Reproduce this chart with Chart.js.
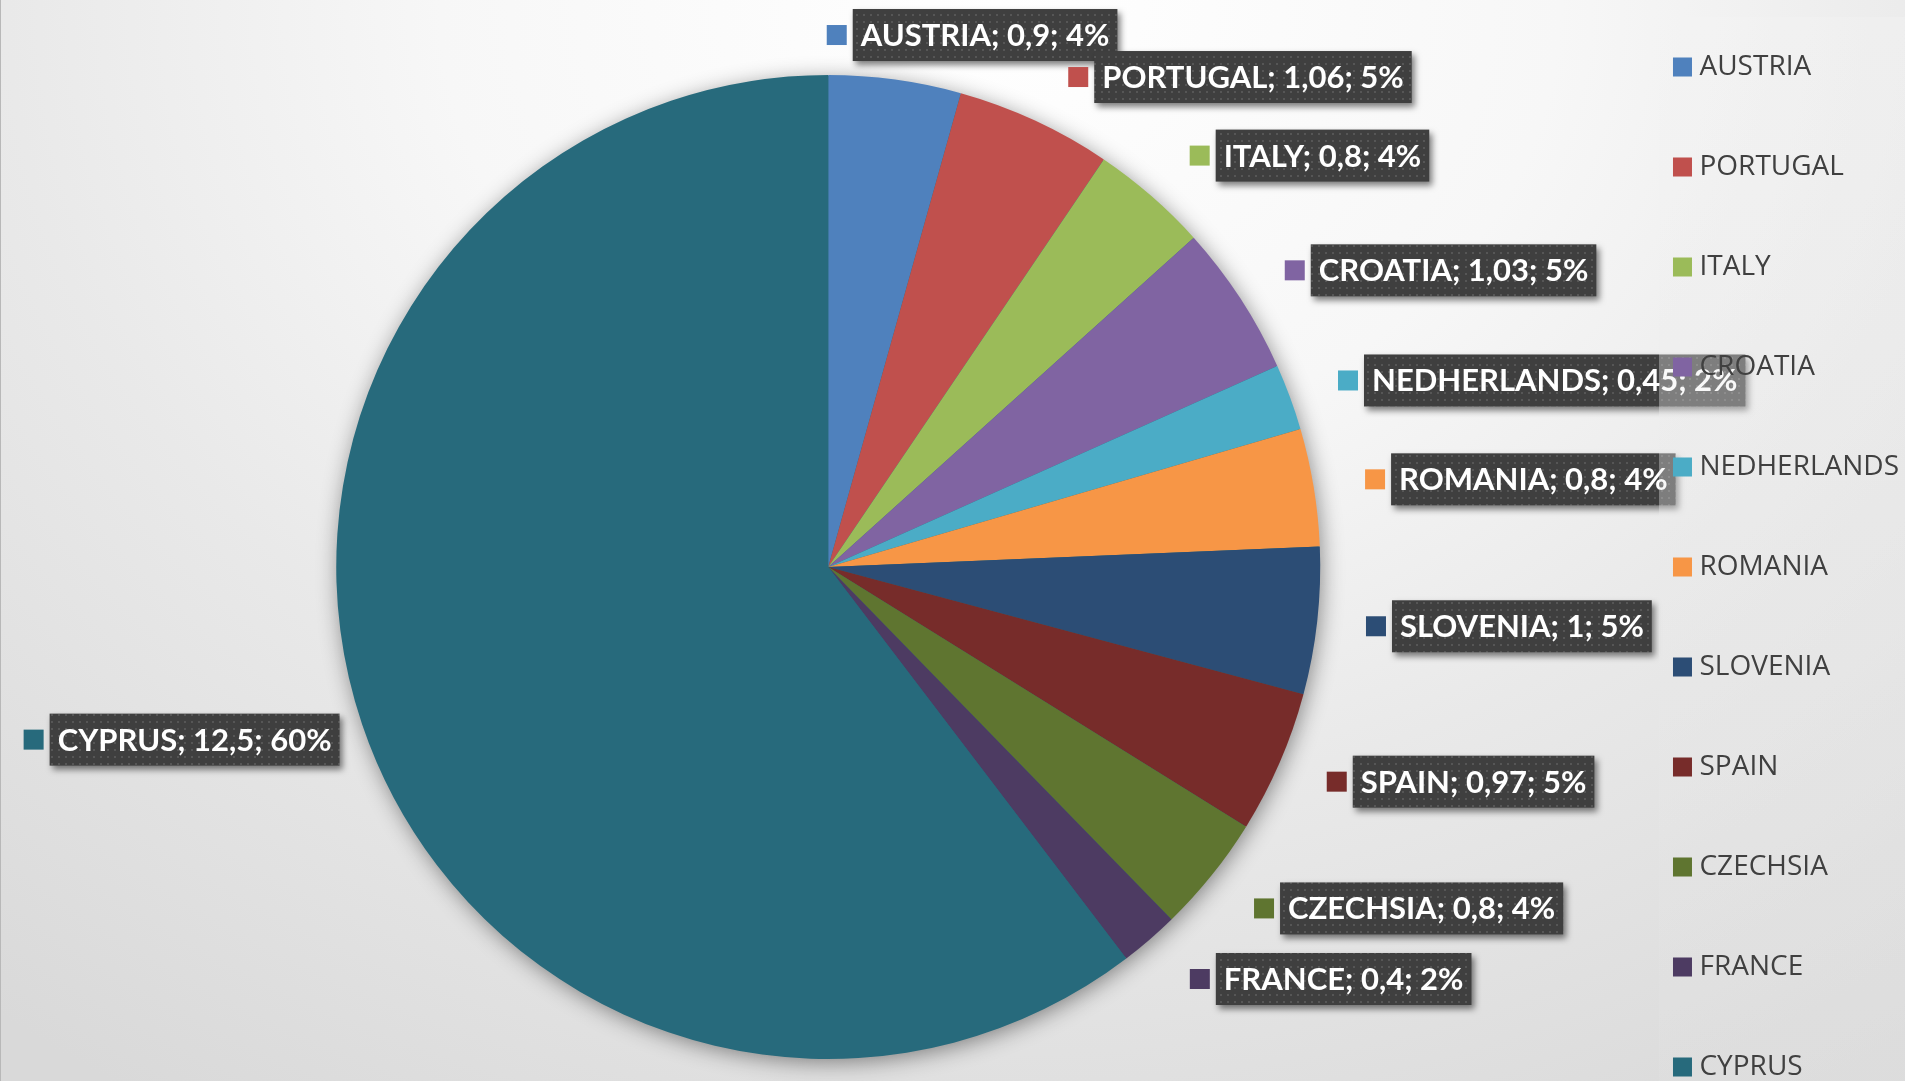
<!DOCTYPE html>
<html><head><meta charset="utf-8">
<script src="https://cdn.jsdelivr.net/npm/chart.js@4/dist/chart.umd.min.js"></script>
<style>
html,body{margin:0;padding:0;width:1905px;height:1081px;overflow:hidden;}
body{position:relative;background:radial-gradient(ellipse 1600px 1300px at 1000px 0px,#ffffff 0%,#f7f7f7 35%,#e9e9e9 62%,#d9d9d9 100%);}
#edge{position:absolute;left:0;top:0;width:1px;height:1081px;background:#b8b8b8;}
#wrap{position:absolute;left:0;top:-58px;width:1971px;height:1250px;}
</style></head><body>
<div id="wrap"><canvas id="c" width="1971" height="1250"></canvas></div>
<div id="edge"></div>
<script>
// ---- data ----
const categories = ['AUSTRIA','PORTUGAL','ITALY','CROATIA','NEDHERLANDS','ROMANIA','SLOVENIA','SPAIN','CZECHSIA','FRANCE','CYPRUS'];
const values = [0.9, 1.06, 0.8, 1.03, 0.45, 0.8, 1, 0.97, 0.8, 0.4, 12.5];
const sliceColors = ['#4F81BD','#C0504D','#9BBB59','#8064A2','#4BACC6','#F79646','#2C4D75','#772C2A','#5F7530','#4D3B62','#276A7C'];

// ---- label styling (offsets from computed outside-end anchor) ----
const labelNudgeX = [-75,13,7,4,3,4,1,3,5,9,23];
const labelNudgeY = [3,0,-4,-2,0,0,0,0,3,3,0];
const LABEL_OFFSET = 48, KEY = 20, GAP = 6, PADX = 8, BOXH = 52, LBL_FONT = 31;

function fmt(v){ return String(v).replace('.', ','); }

function makePattern(ctx){
  const p = document.createElement('canvas'); p.width = 7; p.height = 7;
  const g = p.getContext('2d');
  g.fillStyle = '#3f3f3f'; g.fillRect(0,0,7,7);
  g.fillStyle = '#565656'; g.fillRect(2,2,2,2);
  return ctx.createPattern(p,'repeat');
}

const excelLabels = {
  id: 'excelLabels',
  beforeDraw(chart){
    const ctx = chart.ctx;
    const meta = chart.getDatasetMeta(0);
    const total = values.reduce((a,b)=>a+b,0);
    const pattern = makePattern(ctx);
    ctx.save();
    ctx.font = 'bold ' + LBL_FONT + 'px Lato';
    ctx.textBaseline = 'middle';
    meta.data.forEach((arc,i)=>{
      const {x,y,startAngle,endAngle,outerRadius} = arc.getProps(['x','y','startAngle','endAngle','outerRadius'], true);
      const mid = (startAngle+endAngle)/2;
      const r = outerRadius + LABEL_OFFSET;
      const px = x + r*Math.cos(mid) + labelNudgeX[i];
      const py = y + r*Math.sin(mid) + labelNudgeY[i];
      const text = categories[i] + '; ' + fmt(values[i]) + '; ' + Math.round(values[i]/total*100) + '%';
      const tw = ctx.measureText(text).width;
      const boxW = tw + 2*PADX;
      const groupW = KEY + GAP + boxW;
      const left = Math.cos(mid) >= 0 ? px : px - groupW;
      ctx.fillStyle = sliceColors[i];
      ctx.fillRect(left, py - KEY/2, KEY, KEY);
      const bx = left + KEY + GAP, by = py - BOXH/2;
      ctx.save();
      ctx.shadowColor = 'rgba(0,0,0,0.5)'; ctx.shadowBlur = 6; ctx.shadowOffsetX = 3; ctx.shadowOffsetY = 4;
      ctx.fillStyle = pattern;
      ctx.fillRect(bx, by, boxW, BOXH);
      ctx.restore();
      ctx.fillStyle = '#ffffff';
      ctx.fillText(text, bx + PADX, py + 1);
    });
    // legend panel (semi transparent, drawn over labels, under legend text)
    const g = ctx.createLinearGradient(0,75,0,chart.height);
    g.addColorStop(0,'rgba(244,244,244,0.36)');
    g.addColorStop(1,'rgba(224,224,224,0.36)');
    ctx.fillStyle = g;
    ctx.fillRect(1659, 75, chart.width-1659, chart.height-75);
    ctx.restore();
  },
  beforeDatasetsDraw(chart){
    const arc = chart.getDatasetMeta(0).data[0];
    if(!arc) return;
    const {x,y,outerRadius} = arc.getProps(['x','y','outerRadius'], true);
    const ctx = chart.ctx;
    ctx.save();
    ctx.shadowColor = 'rgba(0,0,0,0.45)'; ctx.shadowBlur = 22; ctx.shadowOffsetX = 2; ctx.shadowOffsetY = 4;
    ctx.fillStyle = sliceColors[sliceColors.length-1];
    ctx.beginPath(); ctx.arc(x, y, outerRadius-1, 0, Math.PI*2); ctx.fill();
    ctx.restore();
  }
};

function draw(){
  new Chart(document.getElementById('c'), {
    type: 'pie',
    data: { labels: categories, datasets: [{ data: values, backgroundColor: sliceColors, borderWidth: 0, radius: 492 }] },
    options: {
      responsive: false, animation: false, devicePixelRatio: 1, events: [],
      layout: { padding: { left: 49, right: 62, top: 0, bottom: 0 } },
      plugins: {
        tooltip: { enabled: false },
        legend: {
          position: 'right', align: 'center',
          labels: {
            usePointStyle: true, pointStyle: 'rect', boxWidth: 6, boxHeight: 19, padding: 72,
            color: '#404040', font: { family: "'Open Sans'", size: 28, weight: '400' }
          }
        }
      }
    },
    plugins: [excelLabels]
  });
}
Promise.all([document.fonts.load('bold 31px Lato'), document.fonts.load("28px 'Open Sans'")]).then(draw, draw);
</script>
</body></html>
